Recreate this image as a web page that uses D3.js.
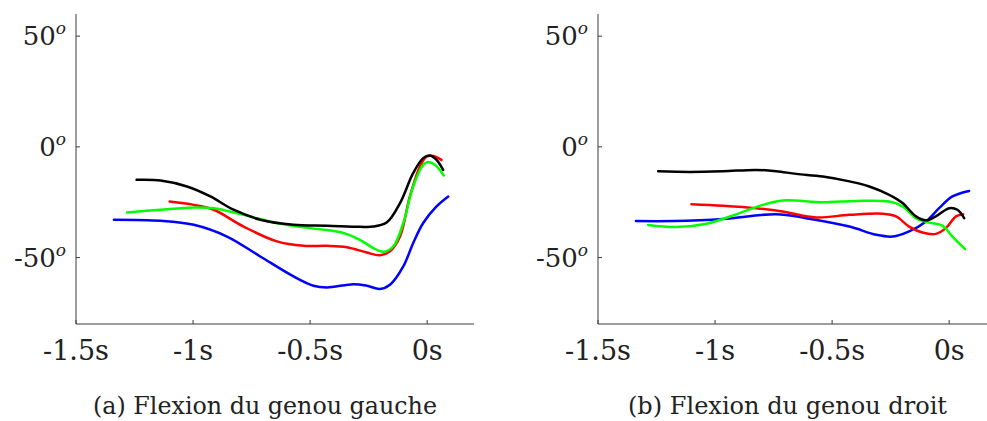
<!DOCTYPE html>
<html><head><meta charset="utf-8">
<script src="https://cdn.jsdelivr.net/npm/d3@7"></script>
<style>
html,body{margin:0;padding:0;background:#fff;}
svg{display:block;}
text{font-family:"DejaVu Serif",serif;fill:#222;}
</style></head>
<body>
<svg id="chart" width="987" height="421"></svg>
<script>
// ---- data ----
const xTicks = [-1.5, -1, -0.5, 0];
const xTickLabels = ["-1.5s", "-1s", "-0.5s", "0s"];
const yTicks = [50, 0, -50];
const yTickLabels = ["50", "0", "-50"];
const captions = ["(a) Flexion du genou gauche", "(b) Flexion du genou droit"];
const seriesColors = ["#0000ff", "#ff0000", "#00ff00", "#000000"];

// left panel (genou gauche): [time s, angle deg]
const leftBlue = [[-1.338,-32.9],[-1.139,-33.4],[-0.997,-35.2],[-0.855,-40.5],[-0.713,-49.5],[-0.571,-58.5],[-0.486,-62.7],[-0.429,-63.5],[-0.315,-62.0],[-0.258,-62.7],[-0.202,-64.2],[-0.159,-62.3],[-0.102,-54.0],[-0.06,-43.5],[-0.017,-34.4],[0.04,-26.9],[0.09,-22.4]];
const leftRed = [[-1.10,-24.7],[-0.997,-26.2],[-0.912,-28.4],[-0.784,-36.0],[-0.642,-42.7],[-0.528,-44.7],[-0.428,-44.7],[-0.343,-45.3],[-0.258,-47.7],[-0.202,-48.9],[-0.159,-47.2],[-0.116,-40.5],[-0.074,-22.4],[-0.031,-8.9],[-0.003,-4.4],[0.026,-4.1],[0.061,-5.9]];
const leftGreen = [[-1.282,-29.6],[-1.139,-28.4],[-0.997,-27.4],[-0.912,-27.7],[-0.784,-30.7],[-0.642,-34.4],[-0.5,-36.7],[-0.358,-38.9],[-0.287,-42.0],[-0.23,-45.7],[-0.188,-47.4],[-0.145,-45.0],[-0.102,-34.4],[-0.06,-17.9],[-0.017,-8.1],[0.004,-6.8],[0.033,-8.1],[0.071,-12.9]];
const leftBlack = [[-1.241,-14.9],[-1.139,-15.2],[-1.026,-17.9],[-0.926,-22.4],[-0.827,-28.4],[-0.713,-32.9],[-0.571,-35.2],[-0.429,-35.6],[-0.287,-36.1],[-0.23,-36.0],[-0.173,-34.2],[-0.116,-25.4],[-0.06,-11.9],[-0.017,-5.1],[0.012,-3.9],[0.04,-5.9],[0.068,-10.4]];

// right panel (genou droit)
const rightBlue = [[-1.338,-33.5],[-1.179,-33.5],[-0.966,-32.6],[-0.739,-30.4],[-0.611,-32.2],[-0.426,-36.0],[-0.312,-39.7],[-0.241,-40.5],[-0.171,-38.2],[-0.099,-33.7],[-0.043,-27.7],[0.014,-22.4],[0.085,-19.9]];
const rightRed = [[-1.101,-25.9],[-0.966,-26.6],[-0.824,-27.7],[-0.711,-29.2],[-0.568,-31.9],[-0.426,-30.7],[-0.284,-30.2],[-0.227,-31.4],[-0.171,-36.0],[-0.114,-38.7],[-0.057,-39.3],[-0.014,-36.7],[0.029,-31.4],[0.06,-30.4]];
const rightGreen = [[-1.286,-35.3],[-1.165,-36.2],[-1.037,-34.7],[-0.895,-29.9],[-0.796,-26.2],[-0.711,-24.2],[-0.54,-25.0],[-0.398,-24.4],[-0.256,-24.7],[-0.199,-26.9],[-0.142,-32.2],[-0.085,-34.2],[-0.029,-35.6],[0.014,-40.5],[0.068,-46.2]];
const rightBlack = [[-1.243,-11.0],[-1.108,-11.3],[-0.966,-11.0],[-0.824,-10.4],[-0.739,-11.0],[-0.653,-12.2],[-0.54,-13.4],[-0.426,-15.6],[-0.341,-17.9],[-0.256,-21.7],[-0.199,-25.4],[-0.142,-31.4],[-0.099,-33.2],[-0.057,-31.4],[0.0,-27.7],[0.035,-28.4],[0.064,-32.2]];

const panels = [
  {left: 76, series: [leftBlue, leftRed, leftGreen, leftBlack], caption: captions[0], capX: 265, capW: 344},
  {left: 598, series: [rightBlue, rightRed, rightGreen, rightBlack], caption: captions[1], capX: 787.5, capW: 319}
];

const svg = d3.select("#chart");
const plotTop = 14, plotBottom = 324, plotW = 398;
const axisColor = "#3a3a3a";

panels.forEach(p => {
  const x = d3.scaleLinear().domain([-1.5, 0.2]).range([p.left, p.left + plotW]);
  const y = d3.scaleLinear().domain([-80, 60]).range([plotBottom, plotTop]);
  const g = svg.append("g");

  g.append("line").attr("x1", p.left).attr("x2", p.left).attr("y1", plotTop).attr("y2", plotBottom)
    .attr("stroke", axisColor).attr("stroke-width", 1);
  g.append("line").attr("x1", p.left).attr("x2", p.left + plotW).attr("y1", plotBottom).attr("y2", plotBottom)
    .attr("stroke", axisColor).attr("stroke-width", 1);

  xTicks.forEach((t, i) => {
    g.append("line").attr("x1", x(t)).attr("x2", x(t)).attr("y1", plotBottom).attr("y2", plotBottom - 4)
      .attr("stroke", axisColor).attr("stroke-width", 1);
    g.append("text").attr("x", x(t)).attr("y", plotBottom + 36).attr("text-anchor", "middle")
      .attr("font-size", 27).text(xTickLabels[i]);
  });
  yTicks.forEach((t, i) => {
    g.append("line").attr("x1", p.left).attr("x2", p.left + 4).attr("y1", y(t)).attr("y2", y(t))
      .attr("stroke", axisColor).attr("stroke-width", 1);
    const tx = g.append("text").attr("x", p.left - 10).attr("y", y(t) + 9).attr("text-anchor", "end")
      .attr("font-size", 26);
    tx.append("tspan").text(yTickLabels[i]);
    tx.append("tspan").attr("font-style", "italic").attr("font-size", 17).attr("dy", -11).text("o");
  });

  const line = d3.line().x(d => x(d[0])).y(d => y(d[1])).curve(d3.curveCatmullRom.alpha(0.5));
  p.series.forEach((s, i) => {
    g.append("path").datum(s).attr("d", line).attr("fill", "none")
      .attr("stroke", seriesColors[i]).attr("stroke-width", 2.5)
      .attr("stroke-linejoin", "round").attr("stroke-linecap", "round");
  });

  g.append("text").attr("x", p.capX).attr("y", 414).attr("text-anchor", "middle")
    .attr("font-size", 25).attr("textLength", p.capW).attr("lengthAdjust", "spacingAndGlyphs")
    .text(p.caption);
});
</script>
</body></html>
